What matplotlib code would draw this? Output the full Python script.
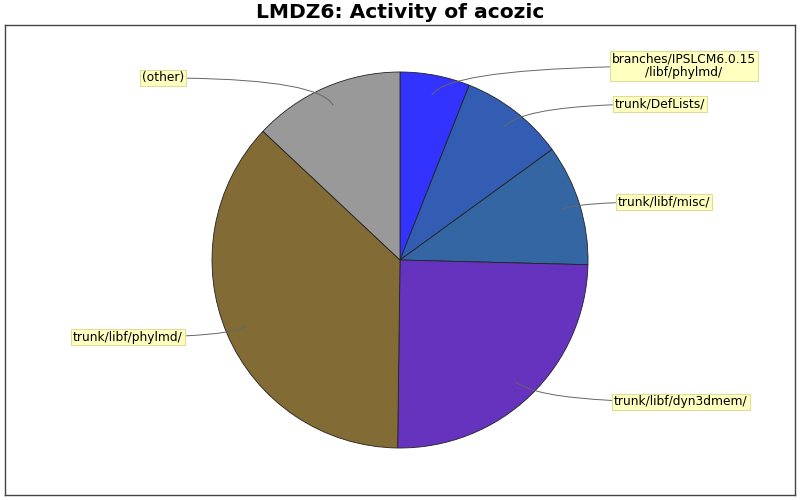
import matplotlib.pyplot as plt

# share of activity per directory, clockwise from 12 o'clock
labels = ["branches/IPSLCM6.0.15\n/libf/phylmd/", "trunk/DefLists/", "trunk/libf/misc/",
          "trunk/libf/dyn3dmem/", "trunk/libf/phylmd/", "(other)"]
values = [6.0, 9.0, 10.4, 24.8, 36.8, 13.0]
colors = ["#3333ff", "#335db3", "#3366a3", "#6633bf", "#826b34", "#999999"]

# where the tags sit (pixels of the 800x500 image) and the curve angle at the pie
tag_pos = [(684, 66), (660, 104), (664, 202), (681, 402), (128, 337), (163, 78)]
anchor_pos = [(432, 95), (504, 127), (561, 210), (516, 382), (245, 326), (333, 105)]
curve_ang = [60, 50, 35, -40, 40, -60]

fig = plt.figure(figsize=(8, 5), dpi=100)
ax = fig.add_axes([5 / 800, 5 / 500, 790 / 800, 470 / 500])

def px(x, y):
    # image pixel -> data coords of the axes
    return x - 5, 495 - y

wedges, _ = ax.pie(values, colors=colors, startangle=90, counterclock=False,
                   center=px(400, 260), radius=188,
                   wedgeprops=dict(edgecolor="#222222", linewidth=0.6))
ax.set_xlim(0, 790)
ax.set_ylim(0, 470)
ax.set_aspect("equal")
ax.set_frame_on(True)
ax.set_xticks([])
ax.set_yticks([])
for s in ax.spines.values():
    s.set_visible(True)
    s.set_color("#444444")
    s.set_linewidth(1)

for lab, tp, ap, ang in zip(labels, tag_pos, anchor_pos, curve_ang):
    ax.annotate(lab, xy=px(*ap), xytext=px(*tp), ha="center", va="center",
                fontsize=8.8, linespacing=1.0,
                bbox=dict(boxstyle="square,pad=0.15", fc="#ffffc0", ec="#dddd99", lw=0.8),
                arrowprops=dict(arrowstyle="-", color="#666666", lw=0.7,
                                connectionstyle=f"angle3,angleA=0,angleB={ang}",
                                shrinkA=0, shrinkB=0))

fig.text(0.5, 1 - 13 / 500, "LMDZ6: Activity of acozic", ha="center", va="center",
         fontsize=14.6, fontweight="bold")

fig.savefig("out.png", dpi=100)
